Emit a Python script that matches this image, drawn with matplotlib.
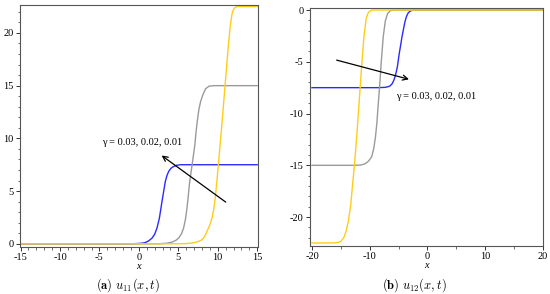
import matplotlib
matplotlib.use("Agg")
import matplotlib.pyplot as plt
from matplotlib.ticker import MultipleLocator

plt.rcParams['font.family'] = ['Liberation Serif', 'DejaVu Serif']
plt.rcParams['mathtext.fontset'] = 'cm'
plt.rcParams['axes.unicode_minus'] = False

# values
# panel (a): u11(x,t)
a_blue_x = [-15, -1, 0, 0.5, 0.82, 1.25, 1.67, 2.0, 2.3, 2.6, 2.93, 3.15, 3.35, 3.55, 3.77, 4.05, 4.4, 4.8, 5.3, 15]
a_blue_y = [0, 0, 0.03, 0.07, 0.12, 0.28, 0.54, 0.9, 1.5, 2.43, 4.0, 5.0, 5.9, 6.45, 6.85, 7.15, 7.33, 7.45, 7.5, 7.5]

a_gray_x = [-15, 2.5, 3.5, 4.2, 4.7, 5.04, 5.4, 5.67, 5.9, 6.1, 6.25, 6.4, 6.58, 6.75, 6.92, 7.1, 7.25, 7.4,
            7.6, 7.83, 8.1, 8.45, 8.9, 9.5, 15]
a_gray_y = [0, 0, 0.05, 0.16, 0.33, 0.54, 0.95, 1.49, 2.3, 3.38, 4.4, 5.6, 6.6, 7.5, 8.4, 9.4, 10.6, 11.6,
            12.7, 13.5, 14.1, 14.7, 14.95, 15, 15]

a_yell_x = [-15, 5.0, 6.0, 6.73, 7.4, 8.0, 8.35, 8.63, 8.95, 9.27, 9.5, 9.68, 9.85, 10.0, 10.15, 10.3, 10.5, 10.7,
            10.95, 11.15, 11.3, 11.45, 11.58, 11.75, 11.87, 12.1, 12.4, 15]
a_yell_y = [0, 0, 0.02, 0.07, 0.18, 0.38, 0.7, 1.17, 1.7, 2.43, 3.3, 4.33, 5.6, 6.85, 8.1, 9.4, 11.1, 12.9,
            15.2, 17.0, 18.4, 19.6, 20.6, 21.5, 22.0, 22.35, 22.5, 22.5]

# panel (b): u12(x,t)
b_blue_x = [-20, -8.5, -7.35, -6.9, -6.48, -6.1, -5.79, -5.5, -5.2, -4.87, -4.6, -4.4, -4.1, -3.88, -3.6, -3.3, -2.9, -2.4, 20]
b_blue_y = [-7.5, -7.5, -7.47, -7.42, -7.34, -7.12, -6.76, -6.25, -5.5, -4.2, -3.3, -2.6, -1.75, -1.13, -0.6, -0.26, -0.08, 0, 0]

b_gray_x = [-20, -12.5, -11.5, -10.8, -10.2, -9.65, -9.3, -9.0, -8.75, -8.5, -8.25, -8.0, -7.65, -7.3, -6.9, -6.4, -5.5, 20]
b_gray_y = [-15, -15, -14.97, -14.85, -14.6, -14.17, -13.4, -12.3, -10.9, -9.0, -7.2, -5.1, -2.6, -1.1, -0.35, -0.05, 0, 0]

b_yell_x = [-20, -16.5, -15.5, -15, -14.5, -14.1, -13.7, -13.3, -12.95, -12.55, -12.15, -11.8, -11.4, -11.0, -10.6, -10.2, -9.6, 20]
b_yell_y = [-22.5, -22.5, -22.45, -22.35, -22.0, -21.4, -20.4, -18.9, -16.8, -14.4, -11.5, -8.7, -5.5, -2.6, -0.8, -0.2, 0, 0]

gamma_label = "γ = 0.03, 0.02, 0.01"

BLUE = '#2a2aff'
GRAY = '#9a9a9a'
YELLOW = '#ffcc1a'

fig = plt.figure(figsize=(5.5, 2.94), dpi=100)


def style_axes(ax):
    for s in ax.spines.values():
        s.set_color('#555555')
        s.set_linewidth(0.8)
    ax.tick_params(which='major', direction='out', length=3, width=0.7, labelsize=7.5, pad=1.5, color='#333333')
    ax.tick_params(which='minor', direction='out', length=1.8, width=0.5, color='#333333')
    ax.set_xlabel('x', style='italic', fontsize=7.5, labelpad=0)


ax1 = fig.add_axes([0.036, 0.160, 0.433, 0.823])
ax1.plot(a_blue_x, a_blue_y, color=BLUE, lw=1.0)
ax1.plot(a_gray_x, a_gray_y, color=GRAY, lw=1.0)
ax1.plot(a_yell_x, a_yell_y, color=YELLOW, lw=1.0)
ax1.set_xlim(-15.1, 15.1)
ax1.set_ylim(-0.3, 22.65)
ax1.xaxis.set_major_locator(MultipleLocator(5))
ax1.xaxis.set_minor_locator(MultipleLocator(1))
ax1.yaxis.set_major_locator(MultipleLocator(5))
ax1.yaxis.set_minor_locator(MultipleLocator(1))
style_axes(ax1)
ax1.annotate('', xy=(2.6, 8.53), xytext=(11.3, 3.8),
             arrowprops=dict(arrowstyle='->', lw=0.9, color='black', mutation_scale=9))
ax1.text(0.44, 9.57, gamma_label, fontsize=7.5, ha='center', va='center')

ax2 = fig.add_axes([0.5636, 0.163, 0.4236, 0.81])
ax2.plot(b_blue_x, b_blue_y, color=BLUE, lw=1.0)
ax2.plot(b_gray_x, b_gray_y, color=GRAY, lw=1.0)
ax2.plot(b_yell_x, b_yell_y, color=YELLOW, lw=1.0)
ax2.set_xlim(-20.35, 20.05)
ax2.set_ylim(-22.8, 0.2)
ax2.xaxis.set_major_locator(MultipleLocator(10))
ax2.xaxis.set_minor_locator(MultipleLocator(5))
ax2.yaxis.set_major_locator(MultipleLocator(5))
ax2.yaxis.set_minor_locator(MultipleLocator(1))
style_axes(ax2)
ax2.annotate('', xy=(-2.72, -6.76), xytext=(-16.19, -4.77),
             arrowprops=dict(arrowstyle='->', lw=0.9, color='black', mutation_scale=9))
ax2.text(-5.5, -8.4, gamma_label, fontsize=7.5, ha='left', va='center')

fig.text(0.233, 0.031, r'$\mathbf{(a)}\ u_{11}(x,t)$', fontsize=9, ha='center', va='center')
fig.text(0.753, 0.031, r'$\mathbf{(b)}\ u_{12}(x,t)$', fontsize=9, ha='center', va='center')

fig.savefig('out.png', dpi=100)
